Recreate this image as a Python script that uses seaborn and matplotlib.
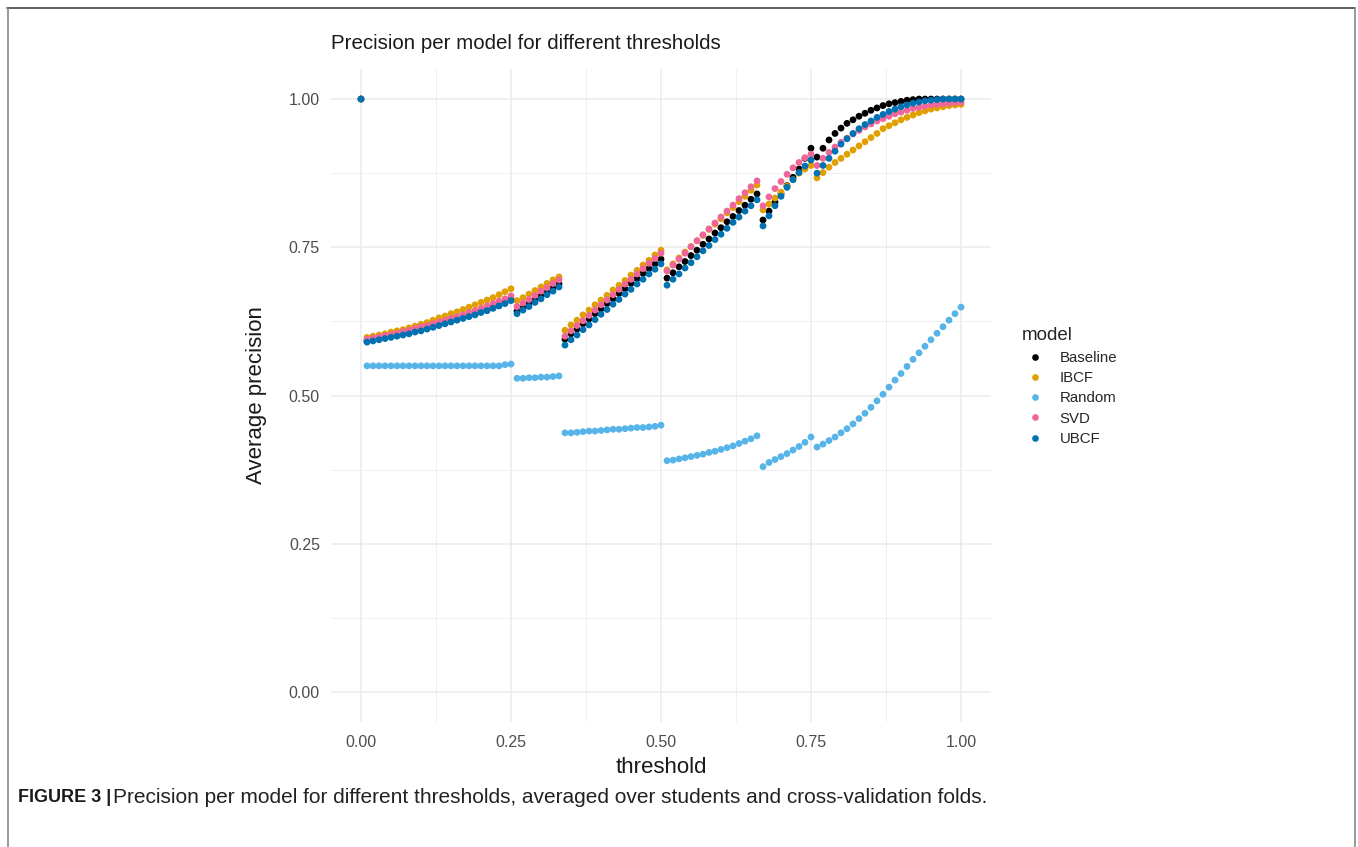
import matplotlib
matplotlib.use("Agg")
import matplotlib.pyplot as plt
from matplotlib.lines import Line2D
import seaborn as sns
import pandas as pd

# ---------------- data ----------------
thresholds = [0.00,
    0.01, 0.02, 0.03, 0.04, 0.05, 0.06, 0.07, 0.08, 0.09, 0.10,
    0.11, 0.12, 0.13, 0.14, 0.15, 0.16, 0.17, 0.18, 0.19, 0.20,
    0.21, 0.22, 0.23, 0.24, 0.25, 0.26, 0.27, 0.28, 0.29, 0.30,
    0.31, 0.32, 0.33, 0.34, 0.35, 0.36, 0.37, 0.38, 0.39, 0.40,
    0.41, 0.42, 0.43, 0.44, 0.45, 0.46, 0.47, 0.48, 0.49, 0.50,
    0.51, 0.52, 0.53, 0.54, 0.55, 0.56, 0.57, 0.58, 0.59, 0.60,
    0.61, 0.62, 0.63, 0.64, 0.65, 0.66, 0.67, 0.68, 0.69, 0.70,
    0.71, 0.72, 0.73, 0.74, 0.75, 0.76, 0.77, 0.78, 0.79, 0.80,
    0.81, 0.82, 0.83, 0.84, 0.85, 0.86, 0.87, 0.88, 0.89, 0.90,
    0.91, 0.92, 0.93, 0.94, 0.95, 0.96, 0.97, 0.98, 0.99, 1.00]

baseline = [1.000,
    0.592, 0.594, 0.596, 0.598, 0.600, 0.602, 0.604, 0.606, 0.609, 0.611,
    0.614, 0.616, 0.619, 0.622, 0.625, 0.628, 0.631, 0.634, 0.637, 0.641,
    0.644, 0.648, 0.652, 0.657, 0.662,
    0.642, 0.648, 0.655, 0.661, 0.668, 0.674, 0.681, 0.688,
    0.595, 0.604, 0.612, 0.621, 0.629, 0.638, 0.646, 0.655, 0.663, 0.672,
    0.680, 0.689, 0.697, 0.706, 0.714, 0.722, 0.730,
    0.698, 0.707, 0.717, 0.726, 0.736, 0.745, 0.755, 0.764, 0.774, 0.783,
    0.793, 0.802, 0.812, 0.821, 0.831, 0.840,
    0.796, 0.811, 0.826, 0.840, 0.854, 0.868, 0.882, 0.900, 0.917,
    0.902, 0.917, 0.931, 0.942, 0.951, 0.959, 0.965, 0.971, 0.976, 0.981,
    0.985, 0.989, 0.992, 0.994, 0.996, 0.998, 0.999, 1.000, 1.000, 1.000,
    1.000, 1.000, 1.000, 1.000, 1.000]

ibcf = [1.000,
    0.598, 0.600, 0.602, 0.604, 0.607, 0.609, 0.611, 0.614, 0.617, 0.620,
    0.623, 0.627, 0.631, 0.634, 0.638, 0.641, 0.645, 0.649, 0.653, 0.657,
    0.661, 0.665, 0.670, 0.675, 0.680,
    0.660, 0.665, 0.671, 0.677, 0.683, 0.689, 0.695, 0.700,
    0.610, 0.619, 0.627, 0.636, 0.644, 0.653, 0.661, 0.669, 0.678, 0.686,
    0.694, 0.703, 0.711, 0.720, 0.728, 0.737, 0.745,
    0.712, 0.722, 0.732, 0.742, 0.751, 0.761, 0.770, 0.780, 0.789, 0.798,
    0.808, 0.817, 0.827, 0.836, 0.846, 0.855,
    0.813, 0.823, 0.833, 0.843, 0.853, 0.864, 0.875, 0.882, 0.888,
    0.867, 0.876, 0.885, 0.893, 0.900, 0.907, 0.914, 0.921, 0.928, 0.935,
    0.942, 0.950, 0.955, 0.960, 0.965, 0.969, 0.973, 0.977, 0.980, 0.983,
    0.985, 0.987, 0.989, 0.990, 0.991]

random_ = [1.000,
    0.550, 0.550, 0.550, 0.550, 0.550, 0.550, 0.550, 0.550, 0.550, 0.550,
    0.550, 0.550, 0.550, 0.550, 0.550, 0.550, 0.550, 0.550, 0.550, 0.550,
    0.550, 0.550, 0.550, 0.552, 0.553,
    0.529, 0.529, 0.530, 0.530, 0.531, 0.531, 0.532, 0.533,
    0.437, 0.437, 0.438, 0.439, 0.440, 0.440, 0.441, 0.442, 0.443, 0.443,
    0.444, 0.445, 0.446, 0.446, 0.447, 0.448, 0.450,
    0.390, 0.391, 0.393, 0.395, 0.397, 0.399, 0.401, 0.404, 0.406, 0.409,
    0.412, 0.415, 0.419, 0.423, 0.427, 0.432,
    0.380, 0.387, 0.392, 0.397, 0.402, 0.408, 0.414, 0.421, 0.430,
    0.413, 0.418, 0.424, 0.430, 0.437, 0.444, 0.452, 0.461, 0.470, 0.480,
    0.491, 0.502, 0.514, 0.526, 0.537, 0.549, 0.561, 0.572, 0.583, 0.594,
    0.605, 0.616, 0.627, 0.638, 0.649]

svd = [1.000,
    0.595, 0.597, 0.599, 0.601, 0.603, 0.605, 0.608, 0.610, 0.613, 0.616,
    0.618, 0.621, 0.624, 0.627, 0.630, 0.633, 0.636, 0.640, 0.643, 0.647,
    0.651, 0.655, 0.659, 0.663, 0.668,
    0.650, 0.656, 0.662, 0.669, 0.676, 0.682, 0.689, 0.695,
    0.600, 0.609, 0.618, 0.626, 0.635, 0.644, 0.653, 0.661, 0.670, 0.679,
    0.688, 0.696, 0.705, 0.714, 0.723, 0.731, 0.740,
    0.710, 0.720, 0.730, 0.740, 0.751, 0.761, 0.771, 0.781, 0.791, 0.801,
    0.811, 0.821, 0.832, 0.842, 0.852, 0.862,
    0.820, 0.835, 0.849, 0.861, 0.873, 0.884, 0.893, 0.901, 0.907,
    0.888, 0.900, 0.910, 0.919, 0.927, 0.934, 0.941, 0.947, 0.953, 0.958,
    0.963, 0.967, 0.971, 0.975, 0.978, 0.981, 0.984, 0.986, 0.988, 0.990,
    0.991, 0.992, 0.993, 0.994, 0.995]

ubcf = [1.000,
    0.590, 0.592, 0.594, 0.596, 0.598, 0.600, 0.602, 0.604, 0.607, 0.609,
    0.612, 0.615, 0.618, 0.621, 0.624, 0.627, 0.630, 0.633, 0.636, 0.640,
    0.643, 0.647, 0.651, 0.655, 0.660,
    0.638, 0.644, 0.650, 0.657, 0.663, 0.670, 0.676, 0.683,
    0.585, 0.594, 0.602, 0.611, 0.619, 0.628, 0.637, 0.645, 0.654, 0.662,
    0.671, 0.679, 0.688, 0.696, 0.705, 0.713, 0.722,
    0.686, 0.696, 0.705, 0.715, 0.724, 0.734, 0.744, 0.753, 0.763, 0.772,
    0.782, 0.792, 0.801, 0.811, 0.820, 0.830,
    0.786, 0.803, 0.820, 0.836, 0.851, 0.864, 0.876, 0.887, 0.897,
    0.875, 0.888, 0.900, 0.912, 0.924, 0.933, 0.942, 0.950, 0.957, 0.963,
    0.969, 0.974, 0.979, 0.983, 0.987, 0.990, 0.993, 0.995, 0.997, 0.998,
    0.999, 1.000, 1.000, 1.000, 1.000]

models = ["Baseline", "IBCF", "Random", "SVD", "UBCF"]
colors = ["#000000", "#DFA000", "#56B4E9", "#F0669A", "#0072B2"]
x_ticks = [0.00, 0.25, 0.50, 0.75, 1.00]
y_ticks = [0.00, 0.25, 0.50, 0.75, 1.00]
tick_labels = ["0.00", "0.25", "0.50", "0.75", "1.00"]

series = {"Baseline": baseline, "IBCF": ibcf, "Random": random_,
          "SVD": svd, "UBCF": ubcf}
frames = [pd.DataFrame({"threshold": thresholds, "precision": vals, "model": m})
          for m, vals in series.items()]
df = pd.concat(frames, ignore_index=True)

# ---------------- plot ----------------
sns.set_theme(style="white")
plt.rcParams["font.family"] = ["Liberation Sans", "DejaVu Sans"]

fig = plt.figure(figsize=(13.58, 8.47), dpi=100)
ax = fig.add_axes([331 / 1358, 1 - 721.6 / 847, 660 / 1358, 652.2 / 847])

sns.scatterplot(data=df, x="threshold", y="precision", hue="model",
                hue_order=models, palette=dict(zip(models, colors)),
                s=24, linewidth=0, ax=ax, legend=False, zorder=3)

ax.set_xlim(-0.05, 1.05)
ax.set_ylim(-0.05, 1.05)
ax.set_xticks(x_ticks)
ax.set_xticklabels(tick_labels)
ax.set_yticks(y_ticks)
ax.set_yticklabels(tick_labels)
ax.set_xticks([0.125, 0.375, 0.625, 0.875], minor=True)
ax.set_yticks([0.125, 0.375, 0.625, 0.875], minor=True)
ax.grid(True, which="major", color="#EBEBEB", linewidth=1.1)
ax.grid(True, which="minor", color="#EFEFEF", linewidth=0.7)
ax.set_axisbelow(True)
for sp in ax.spines.values():
    sp.set_visible(False)
ax.tick_params(axis="both", which="both", length=0, labelsize=11.5,
               labelcolor="#4D4D4D")
ax.tick_params(axis="x", pad=10)
ax.tick_params(axis="y", pad=8)

ax.set_xlabel("threshold", fontsize=16, color="#1A1A1A", labelpad=5)
ax.set_ylabel("Average precision", fontsize=16, color="#1A1A1A", labelpad=16)
ax.set_title("Precision per model for different thresholds", loc="left",
             fontsize=14.8, color="#1A1A1A", pad=15)

handles = [Line2D([0], [0], marker="o", linestyle="", markersize=4.8,
                  markerfacecolor=c, markeredgewidth=0) for c in colors]
leg = fig.legend(handles, models, title="model", loc="upper left",
                 bbox_to_anchor=(1008 / 1358, 1 - 314 / 847), frameon=False,
                 fontsize=10.8, title_fontsize=13.5, handletextpad=0.73,
                 labelspacing=0.42, handlelength=1.8)
leg._legend_box.align = "left"

# caption
fig.text(18 / 1358, 1 - 797 / 847, "FIGURE 3 |", fontsize=13,
         fontweight="bold", color="#1A1A1A", va="center")
fig.text(113 / 1358, 1 - 797 / 847,
         "Precision per model for different thresholds, averaged over students and cross-validation folds.",
         fontsize=15, color="#222222", va="center")

# frame border
fig.add_artist(Line2D([7 / 1358, 1355 / 1358], [1 - 8 / 847, 1 - 8 / 847],
                      color="#444444", linewidth=1.2, transform=fig.transFigure))
fig.add_artist(Line2D([7.5 / 1358, 7.5 / 1358], [0, 1 - 8 / 847],
                      color="#888888", linewidth=1.2, transform=fig.transFigure))
fig.add_artist(Line2D([1355 / 1358, 1355 / 1358], [0, 1 - 8 / 847],
                      color="#888888", linewidth=1.2, transform=fig.transFigure))

fig.savefig("out.png", dpi=100, facecolor="white")
